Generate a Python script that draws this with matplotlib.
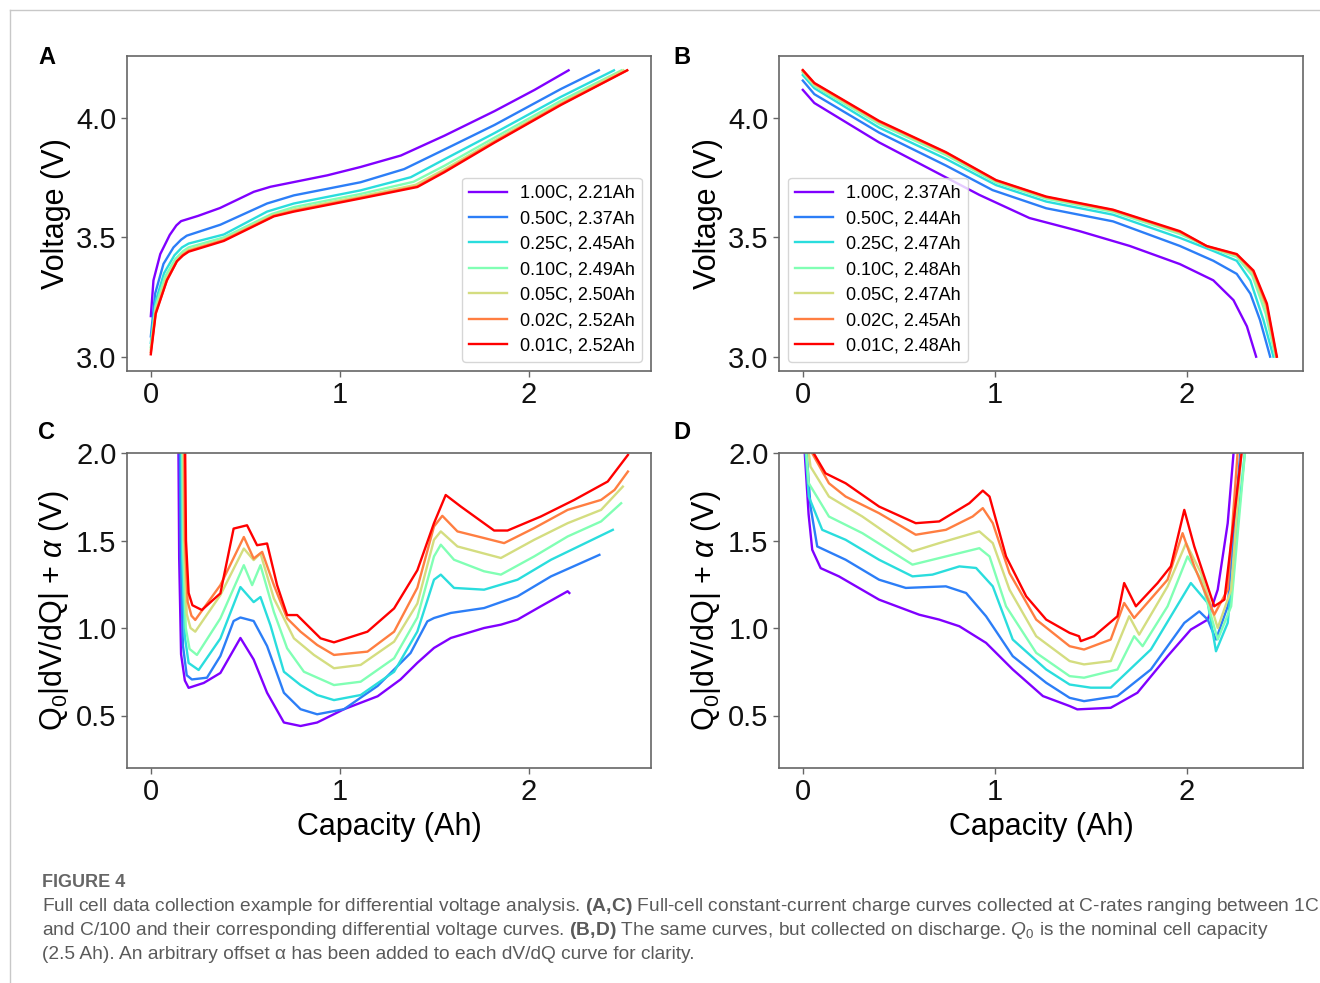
import matplotlib.pyplot as plt
import numpy as np
from matplotlib.lines import Line2D

plt.rcParams['font.family'] = ['Liberation Sans', 'DejaVu Sans']
plt.rcParams['mathtext.fontset'] = 'custom'
plt.rcParams['mathtext.rm'] = 'Liberation Sans'
plt.rcParams['mathtext.it'] = 'Liberation Sans:italic'
plt.rcParams['mathtext.bf'] = 'Liberation Sans:bold'

# C-rates and measured capacities (legend text)
rates = ["1.00C", "0.50C", "0.25C", "0.10C", "0.05C", "0.02C", "0.01C"]
charge_caps = ["2.21Ah", "2.37Ah", "2.45Ah", "2.49Ah", "2.50Ah", "2.52Ah", "2.52Ah"]
discharge_caps = ["2.37Ah", "2.44Ah", "2.47Ah", "2.48Ah", "2.47Ah", "2.45Ah", "2.48Ah"]

# (A) charge voltage curves, one list per C-rate
charge_q = [
    [0.0, 0.014, 0.05, 0.10, 0.135, 0.16, 0.25, 0.366, 0.545, 0.633, 0.934, 1.11, 1.323, 1.553, 1.818, 2.03, 2.21],
    [0.0, 0.023, 0.067, 0.12, 0.16, 0.19, 0.368, 0.615, 0.757, 1.11, 1.34, 1.553, 1.818, 2.17, 2.37],
    [0.0, 0.025, 0.07, 0.125, 0.165, 0.20, 0.386, 0.615, 0.757, 1.11, 1.375, 1.553, 1.818, 2.17, 2.45],
    [0.0, 0.025, 0.075, 0.13, 0.17, 0.20, 0.386, 0.64, 0.757, 1.11, 1.39, 1.553, 1.818, 2.17, 2.49],
    [0.0, 0.026, 0.08, 0.135, 0.17, 0.20, 0.386, 0.645, 0.757, 1.11, 1.40, 1.553, 1.818, 2.17, 2.50],
    [0.0, 0.026, 0.085, 0.138, 0.17, 0.20, 0.386, 0.65, 0.757, 1.11, 1.41, 1.553, 1.818, 2.17, 2.52],
    [0.0, 0.026, 0.085, 0.138, 0.17, 0.20, 0.386, 0.651, 0.757, 1.11, 1.41, 1.553, 1.818, 2.17, 2.52],
]
charge_v = [
    [3.17, 3.32, 3.43, 3.51, 3.55, 3.568, 3.59, 3.623, 3.691, 3.712, 3.760, 3.795, 3.843, 3.926, 4.029, 4.118, 4.20],
    [3.085, 3.265, 3.389, 3.458, 3.49, 3.507, 3.553, 3.642, 3.676, 3.731, 3.786, 3.868, 3.971, 4.122, 4.20],
    [3.058, 3.23, 3.35, 3.425, 3.458, 3.474, 3.512, 3.608, 3.642, 3.697, 3.752, 3.827, 3.937, 4.089, 4.20],
    [3.04, 3.21, 3.335, 3.41, 3.442, 3.458, 3.500, 3.598, 3.627, 3.682, 3.733, 3.800, 3.918, 4.073, 4.20],
    [3.03, 3.195, 3.325, 3.40, 3.432, 3.448, 3.492, 3.593, 3.617, 3.672, 3.720, 3.785, 3.906, 4.063, 4.20],
    [3.02, 3.185, 3.32, 3.40, 3.427, 3.443, 3.488, 3.590, 3.611, 3.666, 3.714, 3.777, 3.900, 4.058, 4.20],
    [3.01, 3.18, 3.32, 3.40, 3.424, 3.440, 3.485, 3.588, 3.608, 3.663, 3.711, 3.773, 3.897, 4.055, 4.20],
]

# (B) discharge voltage curves
discharge_q = [
    [0.0, 0.06, 0.397, 0.658, 0.919, 1.18, 1.441, 1.702, 1.963, 2.137, 2.242, 2.312, 2.36],
    [0.0, 0.06, 0.397, 0.745, 0.988, 1.267, 1.615, 1.963, 2.137, 2.259, 2.33, 2.38, 2.433],
    [0.0, 0.06, 0.397, 0.745, 1.006, 1.267, 1.615, 1.963, 2.137, 2.259, 2.33, 2.398, 2.45],
    [0.0, 0.06, 0.397, 0.745, 1.006, 1.267, 1.615, 1.963, 2.12, 2.259, 2.34, 2.41, 2.46],
    [0.0, 0.06, 0.397, 0.745, 1.006, 1.267, 1.615, 1.963, 2.11, 2.259, 2.343, 2.413, 2.465],
    [0.0, 0.06, 0.397, 0.745, 1.006, 1.267, 1.615, 1.963, 2.105, 2.259, 2.345, 2.415, 2.466],
    [0.0, 0.06, 0.397, 0.745, 1.006, 1.267, 1.615, 1.963, 2.102, 2.259, 2.346, 2.416, 2.468],
]
discharge_v = [
    [4.118, 4.063, 3.898, 3.788, 3.678, 3.581, 3.526, 3.464, 3.388, 3.320, 3.237, 3.127, 3.0],
    [4.157, 4.10, 3.939, 3.801, 3.698, 3.622, 3.567, 3.464, 3.402, 3.347, 3.264, 3.154, 3.0],
    [4.18, 4.125, 3.96, 3.829, 3.719, 3.650, 3.595, 3.498, 3.443, 3.402, 3.319, 3.154, 3.0],
    [4.19, 4.135, 3.975, 3.845, 3.730, 3.662, 3.607, 3.514, 3.456, 3.418, 3.34, 3.18, 3.0],
    [4.195, 4.14, 3.982, 3.852, 3.736, 3.667, 3.612, 3.52, 3.46, 3.425, 3.35, 3.20, 3.0],
    [4.20, 4.145, 3.985, 3.855, 3.738, 3.669, 3.614, 3.523, 3.462, 3.428, 3.357, 3.215, 3.0],
    [4.201, 4.147, 3.988, 3.857, 3.740, 3.671, 3.616, 3.526, 3.464, 3.430, 3.361, 3.223, 3.0],
]

# (C) differential voltage on charge (offset added)
dvc_q = [
    [0.145, 0.150, 0.160, 0.180, 0.20, 0.28, 0.368, 0.474, 0.544, 0.615, 0.704, 0.792, 0.88, 1.022, 1.2, 1.321, 1.41, 1.498, 1.587, 1.763, 1.852, 1.94, 2.063, 2.205, 2.214],
    [0.152, 0.158, 0.17, 0.19, 0.217, 0.297, 0.368, 0.438, 0.474, 0.544, 0.615, 0.704, 0.792, 0.88, 1.022, 1.2, 1.34, 1.374, 1.463, 1.498, 1.587, 1.763, 1.94, 2.117, 2.373],
    [0.16, 0.166, 0.18, 0.20, 0.253, 0.368, 0.474, 0.544, 0.58, 0.633, 0.704, 0.792, 0.88, 0.969, 1.11, 1.287, 1.41, 1.498, 1.534, 1.604, 1.763, 1.94, 2.117, 2.444],
    [0.165, 0.171, 0.185, 0.205, 0.244, 0.368, 0.492, 0.536, 0.58, 0.651, 0.721, 0.81, 0.969, 1.11, 1.287, 1.41, 1.498, 1.534, 1.604, 1.763, 1.852, 2.028, 2.205, 2.382, 2.488],
    [0.17, 0.176, 0.19, 0.21, 0.235, 0.368, 0.492, 0.544, 0.58, 0.651, 0.757, 0.863, 0.969, 1.11, 1.287, 1.41, 1.498, 1.534, 1.622, 1.852, 2.028, 2.205, 2.382, 2.497],
    [0.175, 0.181, 0.195, 0.215, 0.235, 0.368, 0.492, 0.544, 0.589, 0.651, 0.721, 0.792, 0.88, 0.969, 1.146, 1.287, 1.41, 1.498, 1.542, 1.622, 1.763, 1.869, 2.028, 2.205, 2.382, 2.453, 2.524],
    [0.18, 0.186, 0.20, 0.22, 0.27, 0.368, 0.438, 0.509, 0.562, 0.615, 0.668, 0.721, 0.774, 0.827, 0.898, 0.969, 1.146, 1.287, 1.41, 1.498, 1.56, 1.64, 1.816, 1.887, 2.063, 2.24, 2.417, 2.524],
]
dvc_val = [
    [2.2, 1.4, 0.85, 0.70, 0.658, 0.686, 0.743, 0.943, 0.82, 0.63, 0.46, 0.44, 0.46, 0.536, 0.61, 0.706, 0.801, 0.886, 0.943, 1.0, 1.019, 1.048, 1.124, 1.21, 1.20],
    [2.2, 1.4, 0.90, 0.73, 0.706, 0.716, 0.84, 1.04, 1.06, 1.04, 0.897, 0.63, 0.536, 0.507, 0.536, 0.669, 0.82, 0.857, 1.038, 1.057, 1.086, 1.114, 1.181, 1.295, 1.418],
    [2.2, 1.4, 0.95, 0.80, 0.76, 0.94, 1.234, 1.148, 1.177, 1.015, 0.75, 0.674, 0.617, 0.588, 0.617, 0.75, 0.98, 1.276, 1.305, 1.229, 1.219, 1.276, 1.390, 1.561],
    [2.2, 1.45, 1.0, 0.88, 0.846, 1.055, 1.359, 1.245, 1.359, 1.092, 0.884, 0.75, 0.674, 0.693, 0.827, 1.06, 1.409, 1.476, 1.390, 1.324, 1.305, 1.409, 1.523, 1.609, 1.713],
    [2.2, 1.5, 1.08, 1.0, 0.979, 1.188, 1.454, 1.388, 1.426, 1.169, 0.941, 0.846, 0.77, 0.789, 0.922, 1.14, 1.504, 1.552, 1.466, 1.4, 1.504, 1.599, 1.675, 1.808],
    [2.2, 1.5, 1.15, 1.07, 1.046, 1.245, 1.52, 1.397, 1.435, 1.245, 1.055, 0.979, 0.903, 0.846, 0.865, 0.979, 1.23, 1.580, 1.641, 1.552, 1.514, 1.485, 1.571, 1.675, 1.732, 1.789, 1.894],
    [2.2, 1.5, 1.2, 1.13, 1.103, 1.198, 1.568, 1.587, 1.473, 1.483, 1.245, 1.074, 1.074, 1.017, 0.941, 0.918, 0.979, 1.112, 1.33, 1.599, 1.76, 1.694, 1.557, 1.557, 1.637, 1.732, 1.837, 1.989],
]

# (D) differential voltage on discharge (offset added)
dvd_q = [
    [0.0, 0.01, 0.03, 0.049, 0.093, 0.188, 0.397, 0.606, 0.71, 0.815, 0.954, 1.093, 1.25, 1.389, 1.429, 1.603, 1.742, 1.899, 2.02, 2.108, 2.16, 2.212, 2.25],
    [0.0, 0.02, 0.04, 0.075, 0.223, 0.397, 0.536, 0.745, 0.85, 0.954, 1.093, 1.267, 1.389, 1.464, 1.638, 1.812, 1.986, 2.064, 2.108, 2.151, 2.212, 2.285],
    [0.0, 0.015, 0.031, 0.101, 0.223, 0.397, 0.571, 0.675, 0.815, 0.902, 0.989, 1.093, 1.267, 1.389, 1.499, 1.603, 1.812, 2.02, 2.108, 2.151, 2.212, 2.31],
    [0.0, 0.015, 0.031, 0.136, 0.31, 0.571, 0.745, 0.919, 0.972, 1.058, 1.215, 1.389, 1.464, 1.638, 1.725, 1.769, 1.899, 2.003, 2.073, 2.16, 2.23, 2.31],
    [0.0, 0.02, 0.04, 0.136, 0.31, 0.571, 0.71, 0.919, 0.989, 1.076, 1.215, 1.389, 1.464, 1.603, 1.699, 1.751, 1.899, 1.995, 2.073, 2.16, 2.23, 2.29],
    [0.0, 0.03, 0.049, 0.136, 0.223, 0.397, 0.588, 0.745, 0.884, 0.937, 0.989, 1.076, 1.215, 1.389, 1.464, 1.603, 1.673, 1.725, 1.899, 1.977, 2.038, 2.142, 2.212, 2.27],
    [0.03, 0.057, 0.118, 0.223, 0.397, 0.588, 0.71, 0.867, 0.937, 0.972, 1.058, 1.163, 1.267, 1.389, 1.438, 1.447, 1.516, 1.638, 1.673, 1.734, 1.847, 1.916, 1.986, 2.038, 2.142, 2.195, 2.295],
]
dvd_val = [
    [2.3, 2.0, 1.65, 1.447, 1.342, 1.295, 1.162, 1.076, 1.048, 1.010, 0.915, 0.763, 0.611, 0.554, 0.535, 0.544, 0.63, 0.839, 0.991, 1.048, 1.219, 1.599, 2.1],
    [2.3, 2.0, 1.694, 1.466, 1.390, 1.276, 1.229, 1.238, 1.2, 1.067, 0.839, 0.687, 0.601, 0.582, 0.611, 0.763, 1.029, 1.095, 1.048, 0.934, 1.124, 2.1],
    [2.3, 2.0, 1.751, 1.561, 1.504, 1.390, 1.295, 1.305, 1.352, 1.343, 1.238, 0.934, 0.763, 0.677, 0.659, 0.659, 0.877, 1.257, 1.143, 0.867, 1.029, 2.1],
    [2.3, 2.05, 1.827, 1.637, 1.542, 1.362, 1.409, 1.456, 1.409, 1.124, 0.858, 0.725, 0.716, 0.763, 0.953, 0.896, 1.124, 1.409, 1.276, 0.934, 1.124, 2.1],
    [2.3, 2.1, 1.922, 1.751, 1.637, 1.438, 1.485, 1.552, 1.485, 1.219, 0.953, 0.811, 0.792, 0.811, 1.067, 0.962, 1.238, 1.485, 1.314, 1.0, 1.219, 2.1],
    [2.3, 2.15, 1.998, 1.827, 1.751, 1.656, 1.533, 1.561, 1.637, 1.685, 1.599, 1.314, 1.048, 0.896, 0.877, 0.934, 1.143, 1.057, 1.276, 1.542, 1.352, 1.076, 1.219, 2.1],
    [2.3, 1.998, 1.884, 1.827, 1.694, 1.599, 1.609, 1.713, 1.785, 1.751, 1.409, 1.181, 1.048, 0.972, 0.953, 0.925, 0.953, 1.067, 1.257, 1.124, 1.257, 1.352, 1.675, 1.466, 1.124, 1.162, 2.1],
]

colors = plt.cm.rainbow(np.linspace(0, 1, len(rates)))

fig = plt.figure(figsize=(13.2, 9.83), dpi=100)
W, H = 1320.0, 983.0


def px_axes(l, t, r, b):
    return fig.add_axes([l / W, 1 - b / H, (r - l) / W, (b - t) / H])


axA = px_axes(127, 56, 651, 371)
axB = px_axes(779, 56, 1303, 371)
axC = px_axes(127, 453, 651, 768)
axD = px_axes(779, 453, 1303, 768)


def style(ax):
    for s in ax.spines.values():
        s.set_color('#666666')
        s.set_linewidth(1.2)
    ax.tick_params(labelsize=21, color='#666666', length=4, width=1, labelcolor='#111111')
    ax.set_xticks([0, 1, 2])


for i in range(len(rates)):
    axA.plot(charge_q[i], charge_v[i], color=colors[i], lw=1.7,
             label=f"{rates[i]}, {charge_caps[i]}")
    axB.plot(discharge_q[i], discharge_v[i], color=colors[i], lw=1.7,
             label=f"{rates[i]}, {discharge_caps[i]}")
    axC.plot(dvc_q[i], dvc_val[i], color=colors[i], lw=1.7)
    axD.plot(dvd_q[i], dvd_val[i], color=colors[i], lw=1.7)

for ax in (axA, axB):
    style(ax)
    ax.set_yticks([3.0, 3.5, 4.0])
    ax.set_ylim(2.94, 4.26)
    ax.set_ylabel("Voltage (V)", fontsize=22)
axA.set_xlim(-0.126, 2.646)
axB.set_xlim(-0.124, 2.604)

for ax in (axC, axD):
    style(ax)
    ax.set_ylim(0.2, 2.0)
    ax.set_yticks([0.5, 1.0, 1.5, 2.0])
    ax.set_ylabel(r"Q$_0$|dV/dQ| + $\alpha$ (V)", fontsize=22)
    ax.set_xlabel("Capacity (Ah)", fontsize=22)
axC.set_xlim(-0.126, 2.646)
axD.set_xlim(-0.124, 2.604)

legkw = dict(fontsize=13, handlelength=2.1, labelspacing=0.47, borderpad=0.4,
             handletextpad=0.7, framealpha=0.8)
axA.legend(loc='lower right', **legkw)
axB.legend(loc='lower left', **legkw)

for lab, x, y in [("A", 38, 64), ("B", 673, 64), ("C", 38, 439), ("D", 673, 439)]:
    fig.text(x / W, 1 - y / H, lab, fontsize=17, fontweight='bold', va='baseline')

# page frame
fig.add_artist(Line2D([10 / W, 1.0], [1 - 10 / H, 1 - 10 / H], color='#c8c8c8', lw=1))
fig.add_artist(Line2D([10 / W, 10 / W], [0, 1 - 10 / H], color='#c8c8c8', lw=1))

# caption
cap_color = '#5a5a5a'
fig.text(42 / W, 1 - 887 / H, "FIGURE 4", fontsize=13, color='#666666',
         fontweight='bold', va='baseline')
cap_lines = [
    r"Full cell data collection example for differential voltage analysis. $\mathbf{(A,\!C)}$ Full-cell constant-current charge curves collected at C-rates ranging between 1C",
    r"and C/100 and their corresponding differential voltage curves. $\mathbf{(B,\!D)}$ The same curves, but collected on discharge. $Q_0$ is the nominal cell capacity",
    r"(2.5 Ah). An arbitrary offset α has been added to each dV/dQ curve for clarity.",
]
for k, line in enumerate(cap_lines):
    fig.text(42 / W, 1 - (911 + 24 * k) / H, line, fontsize=13.8, color=cap_color,
             va='baseline')

fig.savefig("out.png", dpi=100)
